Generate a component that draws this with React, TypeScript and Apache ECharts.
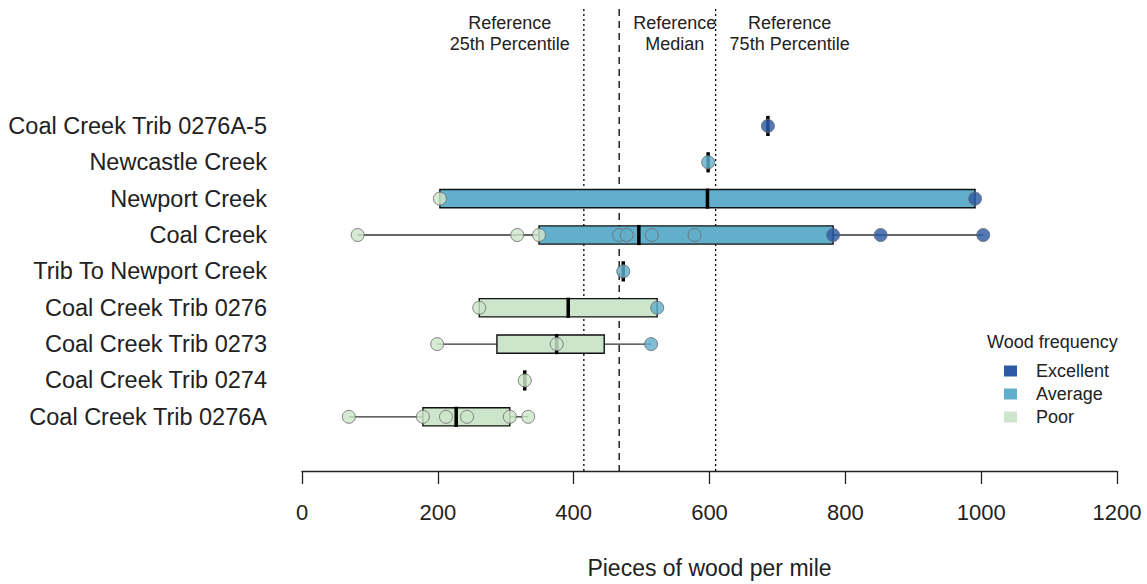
import React, { useEffect, useRef } from "react";
import * as echarts from "echarts";

// ---- data ----
const sites = [
  "Coal Creek Trib 0276A-5",
  "Newcastle Creek",
  "Newport Creek",
  "Coal Creek",
  "Trib To Newport Creek",
  "Coal Creek Trib 0276",
  "Coal Creek Trib 0273",
  "Coal Creek Trib 0274",
  "Coal Creek Trib 0276A",
];
const whiskerLow = [686, 598, 203, 82, 473, 261, 199, 328, 69];
const lowerHinge = [686, 598, 203, 349, 473, 261, 287, 328, 178];
const medians = [686, 598, 597, 496, 473, 392, 375, 328, 227];
const upperHinge = [686, 598, 991, 782, 473, 523, 445, 328, 306];
const whiskerHigh = [686, 598, 991, 1003, 473, 523, 514, 328, 333];
const boxClass = ["Excellent", "Average", "Average", "Average", "Average", "Poor", "Poor", "Poor", "Poor"];

const excellentValues = [686, 991, 782, 852, 1003];
const excellentSites = [0, 2, 3, 3, 3];
const averageValues = [598, 467, 478, 515, 578, 473, 523, 514];
const averageSites = [1, 3, 3, 3, 3, 4, 5, 6];
const poorValues = [203, 82, 317, 349, 261, 199, 375, 328, 69, 178, 212, 243, 306, 333];
const poorSites = [2, 3, 3, 3, 5, 6, 6, 7, 8, 8, 8, 8, 8, 8];

const referenceValues = [415, 467, 609];
const referenceLabels = ["Reference\n25th Percentile", "Reference\nMedian", "Reference\n75th Percentile"];
const referenceSides = ["left", "right", "right"];
const referenceDash = [[2, 3], [7, 5], [2, 3]];

const classNames = ["Excellent", "Average", "Poor"];
const classColors: Record<string, string> = {
  Excellent: "#2D5AA6",
  Average: "#62AFCB",
  Poor: "#CDE5CB",
};

const xTicks = { min: 0, max: 1200, interval: 200 };

const FONT = "'Liberation Sans', Arial, sans-serif";
const INK = "#222222";
const AXIS_OFFSET = 36;

function measure(text: string, size: number): number {
  const c = document.createElement("canvas").getContext("2d");
  if (!c) return text.length * size * 0.5;
  c.font = `${size}px ${FONT}`;
  return Math.max(...text.split("\n").map((l) => c.measureText(l).width));
}

export default function App() {
  const ref = useRef<HTMLDivElement>(null);
  useEffect(() => {
    if (!ref.current) return;
    const chart = echarts.init(ref.current, undefined, { renderer: "svg" });

    const boxData = sites.map((_, i) => [
      i,
      whiskerLow[i],
      lowerHinge[i],
      medians[i],
      upperHinge[i],
      whiskerHigh[i],
    ]);
    const pts = (vals: number[], idx: number[]) => vals.map((v, k) => [v, idx[k]]);

    const pointSeries = [
      { name: "Excellent", data: pts(excellentValues, excellentSites) },
      { name: "Average", data: pts(averageValues, averageSites) },
      { name: "Poor", data: pts(poorValues, poorSites) },
    ].map((s) => ({
      type: "scatter",
      name: s.name,
      data: s.data,
      symbol: "circle",
      symbolSize: 13,
      z: 5,
      itemStyle: {
        color: classColors[s.name],
        opacity: 0.82,
        borderColor: "#6a6a6a",
        borderWidth: 1,
      },
      emphasis: { disabled: true },
    }));

    const option: any = {
      animation: false,
      textStyle: { fontFamily: FONT, color: INK },
      title: {
        text: "Wood frequency",
        left: 987,
        top: 333,
        padding: 0,
        textStyle: { fontSize: 18, fontWeight: "normal", color: INK, fontFamily: FONT },
      },
      legend: {
        orient: "vertical",
        left: 1004,
        top: 362,
        padding: 0,
        icon: "rect",
        itemWidth: 13,
        itemHeight: 11,
        itemGap: 5,
        selectedMode: false,
        textStyle: { fontSize: 18, lineHeight: 18, color: INK, padding: [0, 0, 0, 14], fontFamily: FONT },
        data: classNames.map((n) => ({
          name: n,
          itemStyle: { color: classColors[n], opacity: 1, borderWidth: 0 },
        })),
      },
      grid: { left: 302, right: 30, top: 107.75, height: 328.5 },
      xAxis: {
        type: "value",
        min: xTicks.min,
        max: xTicks.max,
        interval: xTicks.interval,
        offset: AXIS_OFFSET,
        axisLine: { show: true, lineStyle: { color: INK, width: 1.3 } },
        axisTick: { show: true, length: 13, lineStyle: { color: INK, width: 1.3 } },
        axisLabel: {
          fontSize: 22,
          margin: 30,
          color: INK,
          fontFamily: FONT,
          formatter: (v: number) => String(v),
        },
        splitLine: { show: false },
        name: "Pieces of wood per mile",
        nameLocation: "middle",
        nameGap: 85,
        nameTextStyle: { fontSize: 23, color: INK, fontFamily: FONT },
      },
      yAxis: {
        type: "category",
        data: sites,
        inverse: true,
        axisLine: { show: false },
        axisTick: { show: false },
        axisLabel: { fontSize: 23.5, margin: 35, color: INK, fontFamily: FONT },
        splitLine: { show: false },
      },
      series: [
        {
          type: "custom",
          name: "reference",
          clip: false,
          z: 1,
          data: referenceValues.map((v, i) => [v, 0, i]),
          encode: { x: 0, y: 1 },
          renderItem: (params: any, api: any) => {
            const i = params.dataIndex;
            const x = api.coord([api.value(0), 0])[0];
            const cs = params.coordSys;
            const bottom = cs.y + cs.height + AXIS_OFFSET;
            const label = referenceLabels[i];
            const w = measure(label, 18);
            const gap = 14;
            const cx = referenceSides[i] === "left" ? x - gap - w / 2 : x + gap + w / 2;
            return {
              type: "group",
              children: [
                {
                  type: "line",
                  shape: { x1: x, y1: 9, x2: x, y2: bottom },
                  style: { stroke: "#000", lineWidth: 1.3, lineDash: referenceDash[i] },
                },
                {
                  type: "text",
                  style: {
                    text: label,
                    x: cx,
                    y: 12,
                    align: "center",
                    verticalAlign: "top",
                    fontSize: 18,
                    lineHeight: 21,
                    fontFamily: FONT,
                    fill: INK,
                  },
                },
              ],
            };
          },
        },
        {
          type: "custom",
          name: "boxes",
          z: 3,
          data: boxData,
          encode: { x: [1, 2, 3, 4, 5], y: 0 },
          renderItem: (params: any, api: any) => {
            const i = api.value(0);
            const lo = api.coord([api.value(1), i]);
            const q1 = api.coord([api.value(2), i]);
            const md = api.coord([api.value(3), i]);
            const q3 = api.coord([api.value(4), i]);
            const hi = api.coord([api.value(5), i]);
            const h = api.size([0, 1])[1] * 0.5;
            const y = md[1];
            const children: any[] = [];
            if (q1[0] - lo[0] > 0.5)
              children.push({
                type: "line",
                shape: { x1: lo[0], y1: y, x2: q1[0], y2: y },
                style: { stroke: "#333", lineWidth: 1.3 },
              });
            if (hi[0] - q3[0] > 0.5)
              children.push({
                type: "line",
                shape: { x1: q3[0], y1: y, x2: hi[0], y2: y },
                style: { stroke: "#333", lineWidth: 1.3 },
              });
            children.push({
              type: "rect",
              shape: { x: q1[0], y: y - h / 2, width: Math.max(q3[0] - q1[0], 0), height: h },
              style: { fill: classColors[boxClass[i]], stroke: "#111", lineWidth: 1.4 },
            });
            children.push({
              type: "line",
              shape: { x1: md[0], y1: y - h / 2 - 1, x2: md[0], y2: y + h / 2 + 1 },
              style: { stroke: "#000", lineWidth: 3.5 },
            });
            return { type: "group", children };
          },
        },
        ...pointSeries,
      ],
    };
    chart.setOption(option);
    return () => chart.dispose();
  }, []);
  return (
    <div
      ref={ref}
      style={{ position: "fixed", left: 0, top: 0, width: 1147, height: 584, background: "#fff" }}
    />
  );
}
